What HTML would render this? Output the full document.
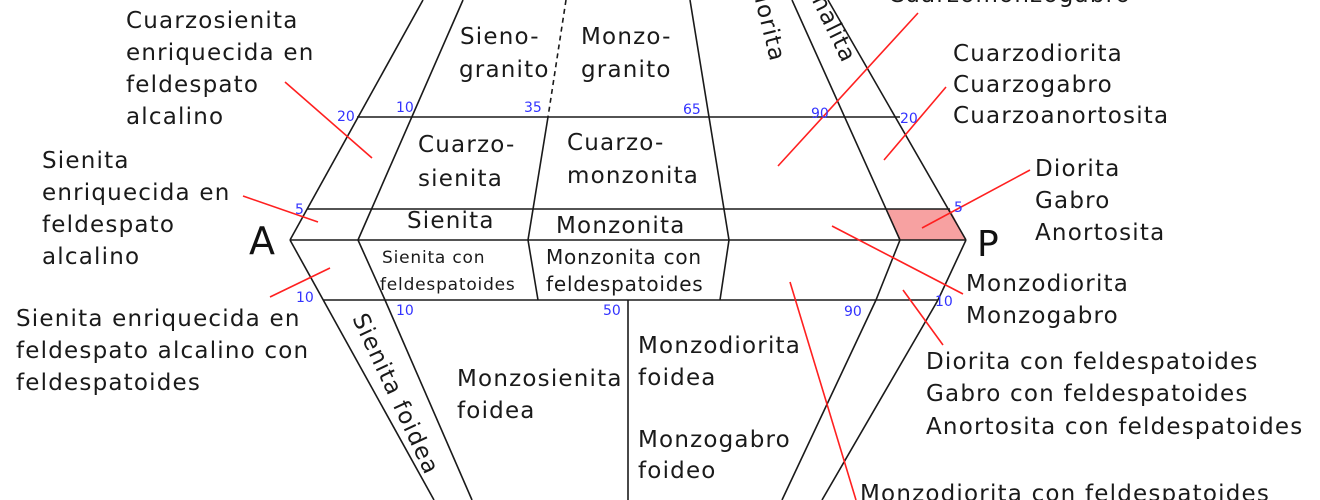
<!DOCTYPE html>
<html><head><meta charset="utf-8"><style>
html,body{margin:0;padding:0;background:#fff;}
svg{display:block;font-family:"DejaVu Sans","Liberation Sans",sans-serif;}
.t{font-size:23px;fill:#1a1a1a;letter-spacing:1.2px;}
.b{font-size:14px;fill:#3333ff;}
</style></head><body>
<svg width="1320" height="500" viewBox="0 0 1320 500" xmlns="http://www.w3.org/2000/svg">
<polygon points="887,209 950,209 966,240 899,240" fill="#f7a1a1"/>
<g stroke="#1a1a1a" stroke-width="1.6" fill="none">
<line x1="423" y1="0" x2="290" y2="240"/>
<line x1="828" y1="0" x2="966" y2="240"/>
<line x1="357" y1="117" x2="900" y2="117"/>
<line x1="307" y1="209" x2="950" y2="209"/>
<line x1="290" y1="240" x2="966" y2="240"/>
<line x1="323" y1="300" x2="938" y2="300"/>
<line x1="463" y1="0" x2="358" y2="240"/>
<line x1="566" y1="0" x2="548" y2="117" stroke-dasharray="5,4"/>
<line x1="548" y1="117" x2="528" y2="240"/>
<line x1="690" y1="0" x2="729" y2="240"/>
<line x1="792" y1="0" x2="900" y2="240"/>
<line x1="290" y1="240" x2="434" y2="500"/>
<line x1="358" y1="240" x2="385" y2="300"/>
<line x1="385" y1="300" x2="472" y2="500"/>
<line x1="528" y1="240" x2="538" y2="300"/>
<line x1="729" y1="240" x2="720" y2="300"/>
<line x1="628" y1="300" x2="628" y2="500"/>
<line x1="900" y1="240" x2="876" y2="300"/>
<line x1="876" y1="300" x2="782" y2="500"/>
<line x1="966" y1="240" x2="938" y2="300"/>
<line x1="938" y1="300" x2="822" y2="500"/>
</g>
<g stroke="#ff2020" stroke-width="1.6">
<line x1="285" y1="82" x2="372" y2="158"/>
<line x1="243" y1="196" x2="318" y2="222"/>
<line x1="270" y1="297" x2="330" y2="268"/>
<line x1="918" y1="13" x2="778" y2="166"/>
<line x1="946" y1="87" x2="884" y2="160"/>
<line x1="1030" y1="170" x2="922" y2="228"/>
<line x1="832" y1="226" x2="963" y2="294"/>
<line x1="903" y1="290" x2="943" y2="345"/>
<line x1="790" y1="282" x2="856" y2="500"/>
</g>
<g class="b">
<text x="337" y="121">20</text><text x="396" y="112">10</text><text x="524" y="112">35</text>
<text x="683" y="114">65</text><text x="811" y="118">90</text><text x="900" y="123">20</text>
<text x="295" y="214">5</text><text x="954" y="212">5</text>
<text x="296" y="302">10</text><text x="396" y="315">10</text><text x="603" y="315">50</text>
<text x="844" y="316">90</text><text x="935" y="306">10</text>
</g>
<g class="t">
<text x="126" y="28">Cuarzosienita</text><text x="126" y="60">enriquecida en</text><text x="126" y="92">feldespato</text><text x="126" y="124">alcalino</text>
<text x="42" y="168">Sienita</text><text x="42" y="200">enriquecida en</text><text x="42" y="232">feldespato</text><text x="42" y="264">alcalino</text>
<text x="16" y="326">Sienita enriquecida en</text><text x="16" y="358">feldespato alcalino con</text><text x="16" y="390">feldespatoides</text>
<text x="888" y="2">Cuarzomonzogabro</text>
<text x="953" y="61">Cuarzodiorita</text><text x="953" y="92">Cuarzogabro</text><text x="953" y="123">Cuarzoanortosita</text>
<text x="1035" y="176">Diorita</text><text x="1035" y="208">Gabro</text><text x="1035" y="240">Anortosita</text>
<text x="966" y="291">Monzodiorita</text><text x="966" y="323">Monzogabro</text>
<text x="926" y="369">Diorita con feldespatoides</text><text x="926" y="401">Gabro con feldespatoides</text><text x="926" y="434">Anortosita con feldespatoides</text>
<text x="860" y="501">Monzodiorita con feldespatoides</text>
<text x="460" y="44">Sieno-</text><text x="459" y="77">granito</text>
<text x="581" y="44">Monzo-</text><text x="581" y="77">granito</text>
<text x="418" y="152">Cuarzo-</text><text x="418" y="186">sienita</text>
<text x="567" y="150">Cuarzo-</text><text x="567" y="183">monzonita</text>
<text x="407" y="228">Sienita</text><text x="556" y="233">Monzonita</text>
<text x="546" y="264" style="font-size:20px;letter-spacing:0.8px">Monzonita con</text><text x="546" y="291" style="font-size:20px;letter-spacing:0.8px">feldespatoides</text>
<text x="457" y="386">Monzosienita</text><text x="457" y="418">foidea</text>
<text x="638" y="353">Monzodiorita</text><text x="638" y="385">foidea</text>
<text x="638" y="447">Monzogabro</text><text x="638" y="478">foideo</text>
<text transform="translate(352,318) rotate(65)">Sienita foidea</text>
<text transform="translate(750,-20) rotate(76)">Diorita</text>
<text transform="translate(800,-24) rotate(64)">Tonalita</text>
</g>
<text x="382" y="263" style="font-size:17px;fill:#1a1a1a;letter-spacing:0.8px">Sienita con</text>
<text x="380" y="290" style="font-size:17px;fill:#1a1a1a;letter-spacing:0.8px">feldespatoides</text>
<text x="249" y="254" style="font-size:38px;fill:#111">A</text>
<text x="977" y="256" style="font-size:36px;fill:#111">P</text>
</svg>
</body></html>
